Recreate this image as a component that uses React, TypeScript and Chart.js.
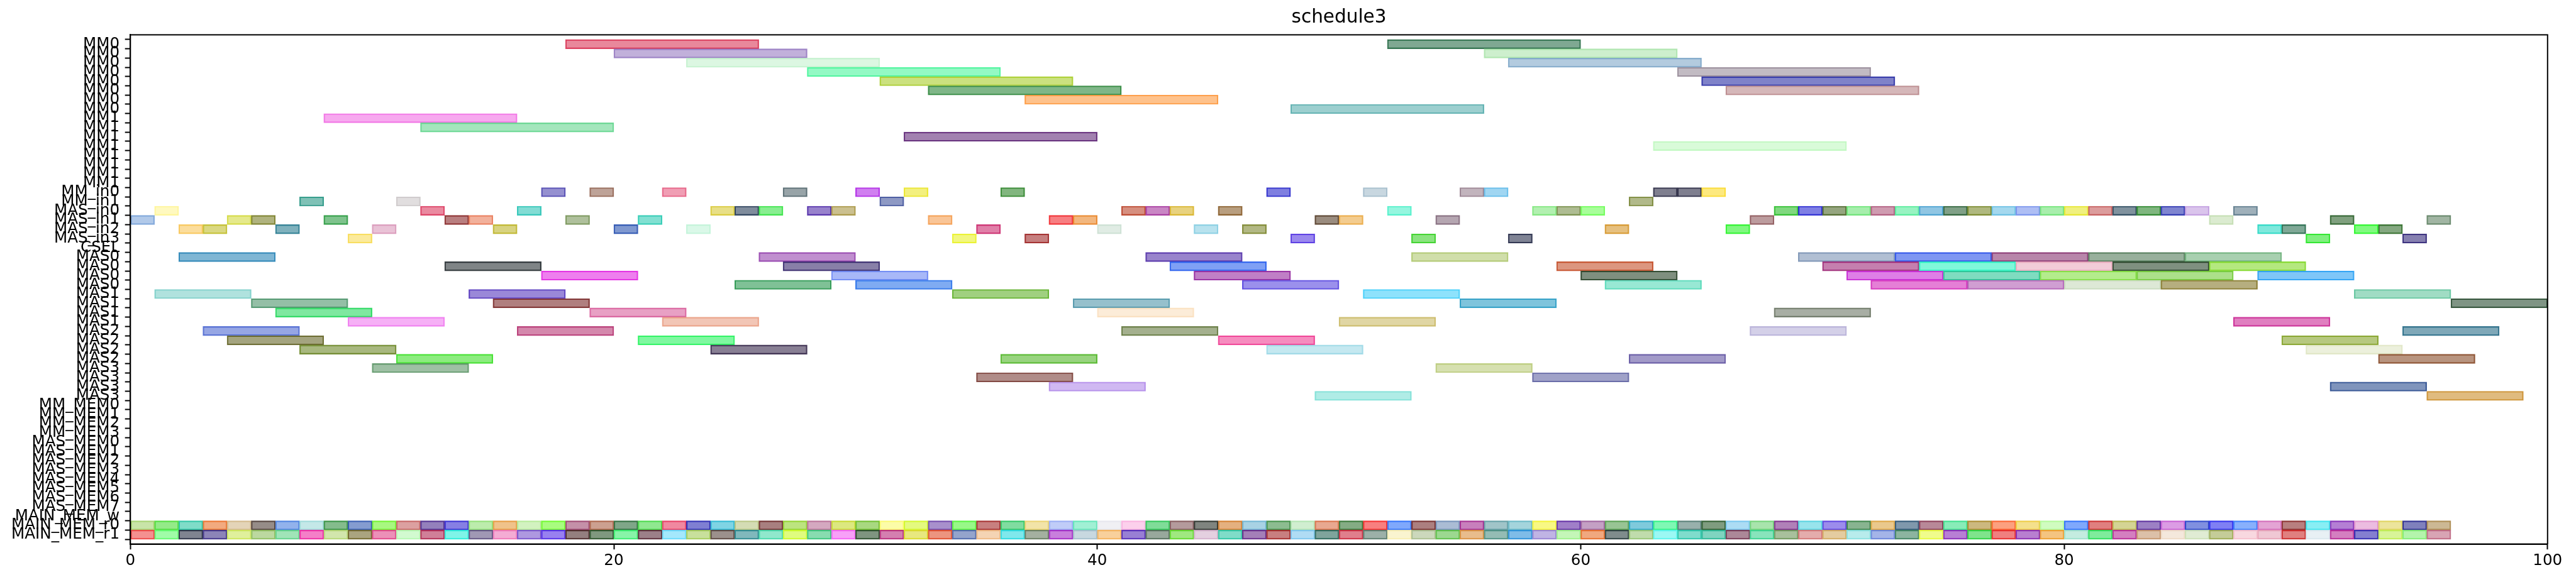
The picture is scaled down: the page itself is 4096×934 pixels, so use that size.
import React, { useEffect, useRef } from 'react';
import { Chart, registerables } from 'chart.js';

Chart.register(...registerables);

const TITLE = 'schedule3';
const FONT = 'DejaVu Sans';

const ROW_NAMES = [
  'MM0', 'MM0', 'MM0', 'MM0', 'MM0', 'MM0', 'MM0', 'MM0',
  'MM1', 'MM1', 'MM1', 'MM1', 'MM1', 'MM1', 'MM1', 'MM1',
  'MM_in0', 'MM_in1',
  'MAS_in0', 'MAS_in1', 'MAS_in2', 'MAS_in3',
  'CSEL',
  'MAS0', 'MAS0', 'MAS0', 'MAS0',
  'MAS1', 'MAS1', 'MAS1', 'MAS1',
  'MAS2', 'MAS2', 'MAS2', 'MAS2',
  'MAS3', 'MAS3', 'MAS3', 'MAS3',
  'MM_MEM0', 'MM_MEM1', 'MM_MEM2', 'MM_MEM3',
  'MAS_MEM0', 'MAS_MEM1', 'MAS_MEM2', 'MAS_MEM3', 'MAS_MEM4', 'MAS_MEM5', 'MAS_MEM6', 'MAS_MEM7',
  'MAIN_MEM_w', 'MAIN_MEM_r0', 'MAIN_MEM_r1',
];

const X_TICKS = [0, 20, 40, 60, 80, 100];

// ---- MM0 rows ----
const ROW00_SPANS = [[18, 26], [52, 60]];
const ROW00_COLORS = ['#e9889b', '#78a892'];
const ROW01_SPANS = [[20, 28], [56, 64]];
const ROW01_COLORS = ['#c1b0da', '#cdefcd'];
const ROW02_SPANS = [[23, 31], [57, 65]];
const ROW02_COLORS = ['#dcf7e2', '#b3cbdf'];
const ROW03_SPANS = [[28, 36], [64, 72]];
const ROW03_COLORS = ['#93f9c4', '#c2bbc3'];
const ROW04_SPANS = [[31, 39], [65, 73]];
const ROW04_COLORS = ['#cbe17f', '#7b82c9'];
const ROW05_SPANS = [[33, 41], [66, 74]];
const ROW05_COLORS = ['#72b688', '#d5b7b9'];
const ROW06_SPANS = [[37, 45]];
const ROW06_COLORS = ['#fec28c'];
const ROW07_SPANS = [[48, 56]];
const ROW07_COLORS = ['#9ccfcf'];

// ---- MM1 rows ----
const ROW08_SPANS = [[8, 16]];
const ROW08_COLORS = ['#f7a9ef'];
const ROW09_SPANS = [[12, 20]];
const ROW09_COLORS = ['#a3e6bc'];
const ROW10_SPANS = [[32, 40]];
const ROW10_COLORS = ['#a281b0'];
const ROW11_SPANS = [[63, 71]];
const ROW11_COLORS = ['#d9fbd9'];

// ---- MM_in / MAS_in rows ----
const ROW16_SPANS = [[17, 18], [19, 20], [22, 23], [27, 28], [30, 31], [32, 33], [36, 37], [47, 48], [51, 52], [55, 56], [56, 57], [63, 64], [64, 65], [65, 66]];
const ROW16_COLORS = ['#9590d0', '#bea398', '#f09eb4', '#98a4a8', '#d07df0', '#f3f07a', '#82b672', '#7368e0', '#c8d7e0', '#c2b4bd', '#a0d6f2', '#7a6f8f', '#7a6f8f', '#fde975'];
const ROW17_SPANS = [[7, 8], [11, 12], [31, 32], [62, 63]];
const ROW17_COLORS = ['#6fc1b6', '#e1dedf', '#8e99c4', '#b1b98a'];
const ROW18_SPANS = [[1, 2], [12, 13], [16, 17], [24, 25], [25, 26], [26, 27], [28, 29], [29, 30], [41, 42], [42, 43], [43, 44], [45, 46], [52, 53], [58, 59], [59, 60], [60, 61], [68, 69], [69, 70], [70, 71], [71, 72], [72, 73], [73, 74], [74, 75], [75, 76], [76, 77], [77, 78], [78, 79], [79, 80], [80, 81], [81, 82], [82, 83], [83, 84], [84, 85], [85, 86], [87, 88]];
const ROW18_COLORS = ['#fff9c0', '#ea8aa0', '#82dcd4', '#e8df87', '#6e8c9c', '#88ee90', '#9882cc', '#cbc08f', '#d68f78', '#c986c4', '#e8d276', '#b89e74', '#95f6df', '#b2f0b0', '#aebc92', '#a8fe9a', '#80d878', '#6b69e4', '#95a56c', '#a6eeac', '#cf9bb0', '#98f3c2', '#90c6e3', '#80a087', '#afb86c', '#a4d8ee', '#aebef4', '#a8eeac', '#f0f070', '#dc9c9c', '#80929e', '#6cb666', '#7185d0', '#dac4ec', '#9fb0ba'];
const ROW19_SPANS = [[0, 1], [4, 5], [5, 6], [8, 9], [13, 14], [14, 15], [18, 19], [21, 22], [33, 34], [38, 39], [39, 40], [49, 50], [50, 51], [54, 55], [67, 68], [86, 87], [91, 92], [95, 96]];
const ROW19_COLORS = ['#b1c9e9', '#e5e98c', '#b0b36c', '#70c38d', '#b97d80', '#f2b19c', '#afc09c', '#82e0d2', '#f9c597', '#f77a82', '#f2b76e', '#9a8c6e', '#f3cc8f', '#b5a6b1', '#bc9c9e', '#dbebd0', '#80a07e', '#a1b5a3'];
const ROW20_SPANS = [[2, 3], [3, 4], [6, 7], [10, 11], [15, 16], [20, 21], [23, 24], [35, 36], [40, 41], [44, 45], [46, 47], [61, 62], [66, 67], [88, 89], [89, 90], [92, 93], [93, 94]];
const ROW20_COLORS = ['#fbdd9c', '#dad882', '#68b1bd', '#e9c2d6', '#d8d380', '#7b98d0', '#daf8e8', '#e07aa8', '#e0ece4', '#b8e2ee', '#b2b884', '#e6c079', '#76f866', '#74e8dc', '#74a896', '#80fa6a', '#84a880'];
const ROW21_SPANS = [[9, 10], [34, 35], [37, 38], [48, 49], [53, 54], [57, 58], [90, 91], [94, 95]];
const ROW21_COLORS = ['#fbea9c', '#f2f77d', '#c67476', '#9a88ee', '#8ae47a', '#748394', '#80f07a', '#8680b0'];

// ---- MAS0 rows ----
const ROW23_SPANS = [[2, 6], [26, 30], [42, 46], [53, 57], [69, 73], [73, 77], [77, 81], [81, 85], [85, 89]];
const ROW23_COLORS = ['#70b6d4', '#c08fcf', '#9984cc', '#d0deaa', '#b1bfd3', '#7697f2', '#b886aa', '#98b09c', '#a8d0b0'];
const ROW24_SPANS = [[13, 17], [27, 31], [43, 47], [59, 63], [70, 74], [74, 78], [78, 82], [82, 86], [86, 90]];
const ROW24_COLORS = ['#748486', '#8877a8', '#68a0f5', '#dc9678', '#c569ae', '#80f8da', '#f2ccd8', '#649080', '#b4e876'];
const ROW25_SPANS = [[17, 21], [29, 33], [44, 48], [60, 64], [71, 75], [75, 79], [79, 83], [83, 87], [88, 92]];
const ROW25_COLORS = ['#ee70ee', '#a8b8f8', '#c06cc6', '#788f7e', '#de78e6', '#74dcc0', '#b4ec8c', '#ace08a', '#6cc6f8'];
const ROW26_SPANS = [[25, 29], [30, 34], [46, 50], [61, 65], [72, 76], [76, 80], [80, 84], [84, 88]];
const ROW26_COLORS = ['#72c196', '#78abf2', '#9b90ec', '#98e8d4', '#e56ed6', '#d09ed2', '#dde8d6', '#b6ae70'];

// ---- MAS1 rows ----
const ROW27_SPANS = [[1, 5], [14, 18], [34, 38], [51, 55], [92, 96]];
const ROW27_COLORS = ['#b0e2de', '#9a88d8', '#a0d080', '#8ee2fc', '#a0dcc4'];
const ROW28_SPANS = [[5, 9], [15, 19], [39, 43], [55, 59], [96, 100]];
const ROW28_COLORS = ['#94bfa6', '#b07a78', '#96c0cc', '#6cc4dc', '#7a9484'];
const ROW29_SPANS = [[6, 10], [19, 23], [40, 44], [68, 72]];
const ROW29_COLORS = ['#78e8a0', '#e8a0c4', '#fcecd8', '#a8aea4'];
const ROW30_SPANS = [[9, 13], [22, 26], [50, 54], [87, 91]];
const ROW30_COLORS = ['#f6b0f6', '#f2c6b6', '#e0d6a4', '#e06ec0'];

// ---- MAS2 rows ----
const ROW31_SPANS = [[3, 7], [16, 20], [41, 45], [67, 71], [94, 98]];
const ROW31_COLORS = ['#96a6e4', '#d488ac', '#a4b08e', '#d4d0e8', '#78a8b8'];
const ROW32_SPANS = [[4, 8], [21, 25], [45, 49], [89, 93]];
const ROW32_COLORS = ['#a4a474', '#7ef8a0', '#f68cbf', '#b6c878'];
const ROW33_SPANS = [[7, 11], [24, 28], [47, 51], [90, 94]];
const ROW33_COLORS = ['#a8b864', '#886c94', '#c4e8f0', '#ecf0dc'];
const ROW34_SPANS = [[11, 15], [36, 40], [62, 66], [93, 97]];
const ROW34_COLORS = ['#8cec6c', '#98d470', '#a29ac8', '#b8946c'];

// ---- MAS3 rows ----
const ROW35_SPANS = [[10, 14], [54, 58]];
const ROW35_COLORS = ['#9ec0a4', '#d6e0b0'];
const ROW36_SPANS = [[35, 39], [58, 62]];
const ROW36_COLORS = ['#b08c88', '#a0a2c8'];
const ROW37_SPANS = [[38, 42], [91, 95]];
const ROW37_COLORS = ['#d0b8f2', '#7494bc'];
const ROW38_SPANS = [[49, 53], [95, 99]];
const ROW38_COLORS = ['#b0ece6', '#e0bb78'];

// ---- MAIN_MEM read rows: one-unit cells ----
const CELL_LENGTH = 1;
const MAIN_R0_STARTS = [
  0, 1, 2, 3, 4, 5, 6, 7, 8, 9, 10, 11, 12, 13, 14, 15, 16, 17, 18, 19,
  20, 21, 22, 23, 24, 25, 26, 27, 28, 29, 30, 31, 32, 33, 34, 35, 36, 37, 38, 39,
  40, 41, 42, 43, 44, 45, 46, 47, 48, 49, 50, 51, 52, 53, 54, 55, 56, 57, 58, 59,
  60, 61, 62, 63, 64, 65, 66, 67, 68, 69, 70, 71, 72, 73, 74, 75, 76, 77, 78, 79,
  80, 81, 82, 83, 84, 85, 86, 87, 88, 89, 90, 91, 92, 93, 94, 95,
];
const MAIN_R0_COLORS = [
  '#c8e4a8', '#94ea88', '#78dcc8', '#f2aa70', '#e4d4b8', '#968c88', '#92b2ec', '#c4e8e8', '#84bc8c', '#849cd0',
  '#a8f880', '#dca0a0', '#9480bc', '#8678e4', '#bcecac', '#f0c28a', '#d2f2c0', '#a8fc7c', '#c490a8', '#cca090',
  '#7ca688', '#90e890', '#f088a0', '#7f78d2', '#68d4e4', '#d4dcb4', '#a87468', '#bce470', '#d4a8c0', '#dce878',
  '#a8d880', '#fcfca8', '#e4fa68', '#a890cc', '#98f888', '#c8746c', '#80dca0', '#f2e4a8', '#c0ccf8', '#a0f0d4',
  '#f0f0f4', '#fcd0ec', '#74dc98', '#b49a9c', '#6c8470', '#e4b070', '#a8d2e4', '#8cbc90', '#d0eed0', '#e8a890',
  '#84ac84', '#f87878', '#74a8fc', '#ac7468', '#aabcd4', '#c874bc', '#a0c4c8', '#a4d4dc', '#f8f884', '#a07cc8',
  '#c4a0c4', '#98c494', '#7ccadc', '#68f8b4', '#98b0ac', '#6c9c7c', '#acdcf4', '#a8e4ac', '#b080b8', '#98e4ec',
  '#9c8cec', '#88b490', '#eac88c', '#7498ac', '#b88898', '#88ecb8', '#ccb874', '#fca068', '#f4e08c', '#d0fcc0',
  '#7ca8fc', '#e07078', '#d4d494', '#9c80c4', '#dc9ce4', '#8090e0', '#7070f4', '#88b0fc', '#e4a4d4', '#b87c6c',
  '#88eef4', '#b46cd4', '#ecbce0', '#ece49c', '#7080bc', '#ccb894',
];
const MAIN_R1_STARTS = [
  0, 1, 2, 3, 4, 5, 6, 7, 8, 9, 10, 11, 12, 13, 14, 15, 16, 17, 18, 19,
  20, 21, 22, 23, 24, 25, 26, 27, 28, 29, 30, 31, 32, 33, 34, 35, 36, 37, 38, 39,
  40, 41, 42, 43, 44, 45, 46, 47, 48, 49, 50, 51, 52, 53, 54, 55, 56, 57, 58, 59,
  60, 61, 62, 63, 64, 65, 66, 67, 68, 69, 70, 71, 72, 73, 74, 75, 76, 77, 78, 79,
  80, 81, 82, 83, 84, 85, 86, 87, 88, 89, 90, 91, 92, 93, 94, 95,
];
const MAIN_R1_COLORS = [
  '#f49090', '#a0fca8', '#7c8490', '#8c84b8', '#e0f09c', '#bcd8a0', '#a0e4b8', '#f46cc8', '#d2e6ac', '#aaa47a',
  '#ec90b8', '#d2fad0', '#d07898', '#78f4e8', '#a098b4', '#f4acd4', '#ae98e0', '#9880f0', '#946c7c', '#749874',
  '#88f4a8', '#9c7488', '#a4e8fc', '#c8e09c', '#9c908c', '#80b8bc', '#90e8cc', '#e0fc78', '#88dcb0', '#f8a0f8',
  '#7c9480', '#d478b0', '#e8e87c', '#ec9480', '#94a4cc', '#f4d4b4', '#6ce8ec', '#a4b0a0', '#c878dc', '#c8d8e0',
  '#f8d09c', '#9878d4', '#98a89c', '#a0e880', '#e4d0e0', '#74dcc8', '#a468b8', '#c86c80', '#b0dcf4', '#7ca49c',
  '#e07c8c', '#9cb0a8', '#faf4d0', '#ccd8bc', '#9cd890', '#e8bc8c', '#94bcb4', '#70bce8', '#c0b4e4', '#c4f6b8',
  '#f0a878', '#748c8c', '#c0dcac', '#9cf8f4', '#74dccc', '#70d4c0', '#ac8898', '#88e4bc', '#a8c09c', '#e4acac',
  '#e4cca0', '#b8ecec', '#a4b4e8', '#8cb4a0', '#f0fc8c', '#b868d4', '#74e48c', '#f07870', '#b874d0', '#f4c480',
  '#c4ece0', '#74ec9c', '#d47cc0', '#dcc0a8', '#f4e8dc', '#e0ecd4', '#c4cc98', '#f8d8e0', '#f0c8d4', '#e08074',
  '#e8f0f4', '#d46cc0', '#8470d0', '#d8f498', '#b4f4ac', '#d8a4b4',
];

const TRACKS: { row: number; spans: number[][]; colors: string[] }[] = [
  { row: 0, spans: ROW00_SPANS, colors: ROW00_COLORS },
  { row: 1, spans: ROW01_SPANS, colors: ROW01_COLORS },
  { row: 2, spans: ROW02_SPANS, colors: ROW02_COLORS },
  { row: 3, spans: ROW03_SPANS, colors: ROW03_COLORS },
  { row: 4, spans: ROW04_SPANS, colors: ROW04_COLORS },
  { row: 5, spans: ROW05_SPANS, colors: ROW05_COLORS },
  { row: 6, spans: ROW06_SPANS, colors: ROW06_COLORS },
  { row: 7, spans: ROW07_SPANS, colors: ROW07_COLORS },
  { row: 8, spans: ROW08_SPANS, colors: ROW08_COLORS },
  { row: 9, spans: ROW09_SPANS, colors: ROW09_COLORS },
  { row: 10, spans: ROW10_SPANS, colors: ROW10_COLORS },
  { row: 11, spans: ROW11_SPANS, colors: ROW11_COLORS },
  { row: 16, spans: ROW16_SPANS, colors: ROW16_COLORS },
  { row: 17, spans: ROW17_SPANS, colors: ROW17_COLORS },
  { row: 18, spans: ROW18_SPANS, colors: ROW18_COLORS },
  { row: 19, spans: ROW19_SPANS, colors: ROW19_COLORS },
  { row: 20, spans: ROW20_SPANS, colors: ROW20_COLORS },
  { row: 21, spans: ROW21_SPANS, colors: ROW21_COLORS },
  { row: 23, spans: ROW23_SPANS, colors: ROW23_COLORS },
  { row: 24, spans: ROW24_SPANS, colors: ROW24_COLORS },
  { row: 25, spans: ROW25_SPANS, colors: ROW25_COLORS },
  { row: 26, spans: ROW26_SPANS, colors: ROW26_COLORS },
  { row: 27, spans: ROW27_SPANS, colors: ROW27_COLORS },
  { row: 28, spans: ROW28_SPANS, colors: ROW28_COLORS },
  { row: 29, spans: ROW29_SPANS, colors: ROW29_COLORS },
  { row: 30, spans: ROW30_SPANS, colors: ROW30_COLORS },
  { row: 31, spans: ROW31_SPANS, colors: ROW31_COLORS },
  { row: 32, spans: ROW32_SPANS, colors: ROW32_COLORS },
  { row: 33, spans: ROW33_SPANS, colors: ROW33_COLORS },
  { row: 34, spans: ROW34_SPANS, colors: ROW34_COLORS },
  { row: 35, spans: ROW35_SPANS, colors: ROW35_COLORS },
  { row: 36, spans: ROW36_SPANS, colors: ROW36_COLORS },
  { row: 37, spans: ROW37_SPANS, colors: ROW37_COLORS },
  { row: 38, spans: ROW38_SPANS, colors: ROW38_COLORS },
  { row: 52, spans: MAIN_R0_STARTS.map((s) => [s, s + CELL_LENGTH]), colors: MAIN_R0_COLORS },
  { row: 53, spans: MAIN_R1_STARTS.map((s) => [s, s + CELL_LENGTH]), colors: MAIN_R1_COLORS },
];

// Colours above are the visible (half-transparent over white) face colours;
// recover the base colour and apply matplotlib-like alpha.
function faceToRgba(hex: string, a: number) {
  const n = parseInt(hex.slice(1), 16);
  const base = (c: number) => Math.max(0, Math.min(255, 2 * c - 255));
  return `rgba(${base((n >> 16) & 255)},${base((n >> 8) & 255)},${base(n & 255)},${a})`;
}

const W = 4096;
const H = 934;
const TICK_FONT = { family: FONT, size: 24.6 };

const framePlugin = {
  id: 'frame',
  afterDraw(chart: any) {
    const { ctx, chartArea } = chart;
    const { left, top, right, bottom } = chartArea;
    ctx.save();
    ctx.strokeStyle = '#000';
    ctx.lineWidth = 2;
    ctx.strokeRect(left, top, right - left, bottom - top);
    ctx.restore();
  },
};

export default function App() {
  const ref = useRef<HTMLCanvasElement | null>(null);

  useEffect(() => {
    const canvas = ref.current;
    if (!canvas) return;
    const points: any[] = [];
    const bgs: string[] = [];
    const borders: string[] = [];
    TRACKS.forEach((t) => {
      t.spans.forEach((sp, i) => {
        points.push({ x: [sp[0], sp[1]], y: t.row });
        bgs.push(faceToRgba(t.colors[i], 0.5));
        borders.push(faceToRgba(t.colors[i], 0.75));
      });
    });

    const chart = new Chart(canvas, {
      type: 'bar',
      data: {
        datasets: [
          {
            data: points,
            backgroundColor: bgs,
            borderColor: borders,
            borderWidth: 1.5,
            borderSkipped: false,
            barPercentage: 1,
            categoryPercentage: 1,
            grouped: false,
          } as any,
        ],
      },
      options: {
        indexAxis: 'y',
        animation: false,
        responsive: false,
        devicePixelRatio: 1,
        layout: { padding: { left: 0, right: 45.2, top: 0, bottom: 0 } },
        plugins: {
          legend: { display: false },
          tooltip: { enabled: false },
          title: {
            display: true,
            text: TITLE,
            fullSize: false,
            color: '#000',
            font: { family: FONT, size: 29.5, weight: 'normal' },
            padding: { top: 11, bottom: 9 },
          },
        },
        scales: {
          x: {
            type: 'linear',
            min: X_TICKS[0],
            max: X_TICKS[X_TICKS.length - 1],
            afterBuildTicks: (s: any) => {
              s.ticks = X_TICKS.map((v) => ({ value: v }));
            },
            ticks: { color: '#000', font: TICK_FONT, padding: 4, maxRotation: 0, autoSkip: false },
            grid: {
              display: true,
              drawOnChartArea: false,
              drawTicks: true,
              tickLength: 8.6,
              tickColor: '#000',
              tickWidth: 2,
            },
            border: { display: true, color: '#000', width: 2 },
            afterFit: (s: any) => {
              s.height = 68.4;
            },
          },
          y: {
            type: 'linear',
            reverse: true,
            min: -0.5,
            max: ROW_NAMES.length - 0.5,
            afterBuildTicks: (s: any) => {
              s.ticks = ROW_NAMES.map((_, i) => ({ value: i }));
            },
            ticks: {
              autoSkip: false,
              color: '#000',
              font: TICK_FONT,
              padding: 8.6,
              callback: (v: any) => ROW_NAMES[v as number],
            },
            grid: {
              display: true,
              drawOnChartArea: false,
              drawTicks: true,
              tickLength: 8.6,
              tickColor: '#000',
              tickWidth: 2,
            },
            border: { display: true, color: '#000', width: 2 },
            afterFit: (s: any) => {
              s.width = 207.3;
            },
          },
        },
      } as any,
      plugins: [framePlugin],
    });

    return () => chart.destroy();
  }, []);

  return (
    <div style={{ position: 'fixed', left: 0, top: 0, width: W, height: H, background: '#fff' }}>
      <canvas ref={ref} width={W} height={H} style={{ width: W, height: H, display: 'block' }} />
    </div>
  );
}
